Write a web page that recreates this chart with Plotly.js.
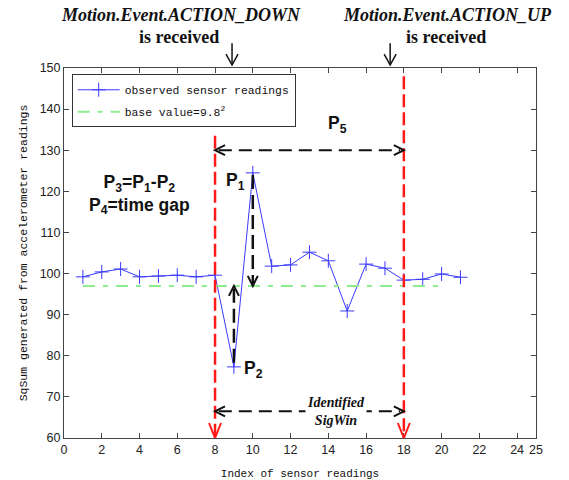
<!DOCTYPE html>
<html><head><meta charset="utf-8">
<script src="https://cdn.plot.ly/plotly-3.0.1.min.js"></script>
<style>html,body{margin:0;padding:0;background:#fff}#chart{width:569px;height:480px}</style>
</head><body><div id="chart"></div>
<script>
// ---- data ----
const sampleIndex = [1,2,3,4,5,6,7,8,9,10,11,12,13,14,15,16,17,18,19,20,21];
const sqSum = [99.2,100.4,101.1,99.2,99.4,99.6,99.2,99.6,77.3,124.5,101.8,102.1,105.2,103.1,90.9,102.3,101.3,98.4,98.6,99.9,99.1];
const baseIndex = [1, 20];
const baseValue = 97;
const xTickVals = [0,2,4,6,8,10,12,14,16,18,20,22,24,25];
const yTickVals = [60,70,80,90,100,110,120,130,140,150];
const actionDownIndex = 8;
const actionUpIndex = 18;
const peakIndex = 10;
const troughIndex = 9;

// ---- styling ----
const SANS = 'Liberation Sans, Arial, sans-serif';
const SERIF = 'Liberation Serif, Times New Roman, serif';
const MONO = 'Liberation Mono, Courier New, monospace';
const BLUE = '#3a3aff';
const GREEN = '#8eed8e';
const RED = '#ff1a1a';
const BLACK = '#111';

const peakVal = sqSum[sampleIndex.indexOf(peakIndex)];
const troughVal = sqSum[sampleIndex.indexOf(troughIndex)];

const traces = [
  {
    x: sampleIndex, y: sqSum, type: 'scatter', mode: 'lines+markers',
    name: 'observed sensor readings', legendgroup: 'a',
    line: {color: BLUE, width: 1},
    marker: {symbol: 'cross-thin-open', size: 10, color: BLUE, line: {color: BLUE, width: 1}}
  },
  {
    x: baseIndex, y: [baseValue, baseValue], type: 'scatter', mode: 'lines',
    name: 'base value=9.8<sup>2</sup>', legendgroup: 'b',
    line: {color: GREEN, width: 2, dash: '12px,8px,5px,8px'}
  }
];

function vline(x, y0, y1, color, width, dash) {
  return {type: 'line', xref: 'x', yref: 'y', x0: x, x1: x, y0: y0, y1: y1,
          line: {color: color, width: width, dash: dash}};
}
function hline(y, x0, x1, color, width, dash) {
  return {type: 'line', xref: 'x', yref: 'y', x0: x0, x1: x1, y0: y, y1: y,
          line: {color: color, width: width, dash: dash}};
}
// open V arrow head drawn in pixels, tip at (x,y)
function head(xref, yref, x, y, dir, w, l, color, width) {
  let p;
  if (dir === 'down') p = `M${-w},${l} L0,0 L${w},${l}`;
  else if (dir === 'up') p = `M${-w},${-l} L0,0 L${w},${-l}`;
  else if (dir === 'left') p = `M${l},${w} L0,0 L${l},${-w}`;
  else p = `M${-l},${w} L0,0 L${-l},${-w}`;
  return {type: 'path', xref: xref, yref: yref, xsizemode: 'pixel', ysizemode: 'pixel',
          xanchor: x, yanchor: y, path: p, line: {color: color, width: width}};
}

const p5Y = 130, sigY = 66.5;
const shapes = [
  vline(actionDownIndex, 133.5, 60, RED, 2.5, '13px,5px'),
  vline(actionUpIndex, 148, 60, RED, 2.5, '13px,5px'),
  head('x', 'y', actionDownIndex, 60, 'down', 6, 15, RED, 2),
  head('x', 'y', actionUpIndex, 60, 'down', 6, 15, RED, 2),
  // P5 arrow
  hline(p5Y, actionDownIndex + 0.2, actionUpIndex - 0.2, BLACK, 2, '13px,7px'),
  head('x', 'y', actionDownIndex, p5Y, 'left', 5, 10, BLACK, 2),
  head('x', 'y', actionUpIndex, p5Y, 'right', 5, 10, BLACK, 2),
  // SigWin arrow
  hline(sigY, actionDownIndex + 0.2, actionUpIndex - 0.2, BLACK, 2, '13px,7px'),
  head('x', 'y', actionDownIndex, sigY, 'left', 5, 10, BLACK, 2),
  head('x', 'y', actionUpIndex, sigY, 'right', 5, 10, BLACK, 2),
  // P1 arrow (peak down to base)
  vline(peakIndex, peakVal - 0.5, baseValue + 0.5, BLACK, 2.5, '14px,6px'),
  head('x', 'y', peakIndex, baseValue, 'down', 5, 10, BLACK, 2),
  // P2 arrow (trough up to base)
  vline(troughIndex, troughVal + 1, baseValue - 0.5, BLACK, 2.5, '14px,6px'),
  head('x', 'y', troughIndex, baseValue, 'up', 5, 10, BLACK, 2),
  // top arrows
  {type: 'line', xref: 'paper', yref: 'paper', x0: 0.356, x1: 0.356, y0: 1.067, y1: 1.008, line: {color: BLACK, width: 1.5}},
  head('paper', 'paper', 0.356, 1.008, 'down', 6, 11, BLACK, 1.5),
  {type: 'line', xref: 'paper', yref: 'paper', x0: 0.691, x1: 0.691, y0: 1.067, y1: 1.008, line: {color: BLACK, width: 1.5}},
  head('paper', 'paper', 0.691, 1.008, 'down', 6, 11, BLACK, 1.5)
];

const boldSans = {family: SANS, size: 17.5, color: BLACK, weight: 'bold'};
const topItalic = {family: SERIF, size: 18, color: BLACK, weight: 'bold', style: 'italic'};
const topPlain = {family: SERIF, size: 18, color: BLACK, weight: 'bold'};
function note(x, y, text, font, extra) {
  return Object.assign({x: x, y: y, xref: 'x', yref: 'y', showarrow: false,
    xanchor: 'center', yanchor: 'middle', text: text, font: font}, extra || {});
}
function topNote(x, y, text, font) {
  return {x: x, y: y, xref: 'paper', yref: 'paper', showarrow: false,
    xanchor: 'center', yanchor: 'middle', text: text, font: font};
}
const annotations = [
  note(4, 119.3, 'P<sub>3</sub>=P<sub>1</sub>-P<sub>2</sub><br>P<sub>4</sub>=time gap', boldSans),
  note(9.7, 122.5, 'P<sub>1</sub>', boldSans, {xanchor: 'right'}),
  note(9.45, 76.6, 'P<sub>2</sub>', boldSans, {xanchor: 'left'}),
  note(14.5, 136.3, 'P<sub>5</sub>', boldSans),
  note(14.4, sigY, 'Identified<br>SigWin',
       {family: SERIF, size: 14, color: BLACK, weight: 'bold', style: 'italic'}, {bgcolor: '#fff'}),
  topNote(0.248, 1.142, 'Motion.Event.ACTION_DOWN', topItalic),
  topNote(0.243, 1.083, 'is received', topPlain),
  topNote(0.8125, 1.142, 'Motion.Event.ACTION_UP', topItalic),
  topNote(0.809, 1.083, 'is received', topPlain)
];

const axisCommon = {
  showline: true, linecolor: '#444', linewidth: 1, mirror: 'allticks',
  ticks: 'inside', ticklen: 5, tickcolor: '#444', showgrid: false, zeroline: false,
  tickfont: {family: SANS, size: 12.5, color: '#222'}
};

const layout = {
  width: 569, height: 480,
  margin: {l: 64, r: 33, t: 68, b: 42},
  paper_bgcolor: '#fff', plot_bgcolor: '#fff',
  showlegend: true,
  legend: {x: 0.0163, y: 0.983, xanchor: 'left', yanchor: 'top',
           bordercolor: '#333', borderwidth: 1, bgcolor: '#fff',
           traceorder: 'grouped', tracegroupgap: 3,
           font: {family: MONO, size: 11.4, color: '#111'}, itemwidth: 42},
  xaxis: Object.assign({}, axisCommon, {
    range: [0, 25], tickmode: 'array', tickvals: xTickVals,
    title: {text: 'Index of sensor readings', font: {family: MONO, size: 11, color: '#111'}}
  }),
  yaxis: Object.assign({}, axisCommon, {
    range: [60, 150], tickmode: 'array', tickvals: yTickVals, automargin: true,
    title: {text: 'SqSum generated from accelerometer readings', font: {family: MONO, size: 11.5, color: '#111'}, standoff: 9}
  }),
  shapes: shapes,
  annotations: annotations
};

Plotly.newPlot('chart', traces, layout, {displayModeBar: false, staticPlot: true});
</script>
</body></html>
